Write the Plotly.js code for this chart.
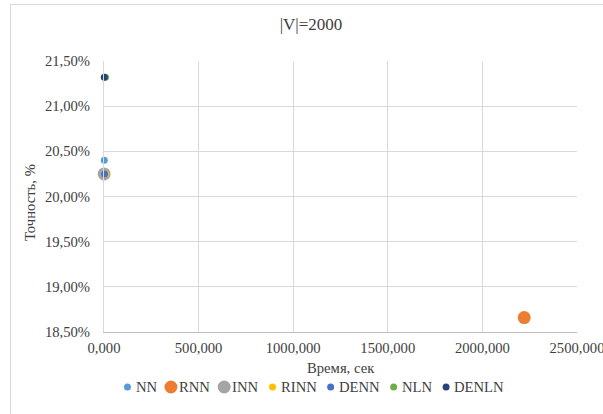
<!DOCTYPE html>
<html>
<head>
<meta charset="utf-8">
<script src="https://cdn.plot.ly/plotly-3.0.1.min.js"></script>
<style>
  html, body { margin: 0; padding: 0; background: #ffffff; }
  #wrap { position: relative; width: 603px; height: 414px; overflow: hidden; }
  #frame { position: absolute; left: 10px; top: 4px; width: 620px; height: 430px;
           border: 1px solid #d9d9d9; box-sizing: border-box; pointer-events: none; }
  #chart { position: absolute; left: 0; top: 0; width: 603px; height: 414px; }
</style>
</head>
<body>
<div id="wrap">
  <div id="chart"></div>
  <div id="frame"></div>
</div>
<script>
// Methods compared for |V| = 2000
const methods   = ["NN", "RNN", "INN", "RINN", "DENN", "NLN", "DENLN"];
// Running time, seconds
const timeSec   = [1.5, 2221, 0.8, 9, 3, 8, 1.5];
// Accuracy, fraction
const accuracy  = [0.2040, 0.1866, 0.2025, 0.2025, 0.2025, 0.2132, 0.2132];
const colors    = ["#5B9BD5", "#ED7D31", "#A5A5A5", "#FFC000", "#4472C4", "#70AD47", "#264478"];
const sizes     = [7, 13, 13, 7, 7, 7, 7];

const serif = '"Liberation Serif", "Times New Roman", serif';
const ink = "#404040";
const fs = 14.67;

// plot area in pixels
const W = 603, H = 414;
const PL = 104, PR = 577, PT = 61, PB = 332;
const px2x = p => (p - PL) / (PR - PL);
const py2y = p => (PB - p) / (PB - PT);

const traces = methods.map((m, i) => ({
  type: "scatter",
  mode: "markers",
  name: m,
  x: [timeSec[i]],
  y: [accuracy[i]],
  marker: { color: colors[i], size: sizes[i], line: { width: 0 } },
  cliponaxis: false,
  showlegend: false
}));

// Legend row: marker, label, next marker ... centred under the chart
const ctx = document.createElement("canvas").getContext("2d");
ctx.font = fs + "px 'Liberation Serif'";
const markerToText = 6.3, textToMarker = 16;
const textW = methods.map(m => ctx.measureText(m).width);
let total = sizes[0] / 2;
methods.forEach((m, i) => {
  total += markerToText + textW[i];
  if (i < methods.length - 1) total += textToMarker;
});
const legendCenter = 313, legendY = 387;
let cx = legendCenter - total / 2 + sizes[0] / 2;
const shapes = [], annotations = [];
methods.forEach((m, i) => {
  const r = sizes[i] / 2;
  shapes.push({
    type: "circle", xref: "paper", yref: "paper",
    xsizemode: "pixel", ysizemode: "pixel",
    xanchor: px2x(cx), yanchor: py2y(legendY),
    x0: -r, x1: r, y0: -r, y1: r,
    fillcolor: colors[i], line: { width: 0 }
  });
  const tx = cx + markerToText;
  annotations.push({
    text: m, xref: "paper", yref: "paper",
    x: px2x(tx), y: py2y(legendY), xanchor: "left", yanchor: "middle",
    showarrow: false, font: { family: serif, size: fs, color: ink }
  });
  cx = tx + textW[i] + textToMarker;
});

// Axis titles
annotations.push({
  text: "Время, сек", xref: "paper", yref: "paper",
  x: px2x(340.5), y: py2y(368), xanchor: "center", yanchor: "middle",
  showarrow: false, font: { family: serif, size: fs, color: ink }
});
annotations.push({
  text: "Точность, %", xref: "paper", yref: "paper",
  x: px2x(30), y: py2y(203), xanchor: "center", yanchor: "middle", textangle: -90,
  showarrow: false, font: { family: serif, size: fs, color: ink }
});

const layout = {
  width: W,
  height: H,
  paper_bgcolor: "#ffffff",
  plot_bgcolor: "#ffffff",
  separators: ", ",
  margin: { l: PL, r: W - PR, t: PT, b: H - PB },
  font: { family: serif, size: fs, color: ink },
  title: {
    text: "|V|=2000",
    font: { family: serif, size: 17, color: ink },
    x: 311 / W, xref: "container", xanchor: "center",
    y: 1 - 24 / H, yref: "container", yanchor: "middle"
  },
  xaxis: {
    range: [0, 2500],
    dtick: 500,
    tick0: 0,
    tickformat: ".3f",
    showgrid: true,
    gridcolor: "#d9d9d9",
    gridwidth: 1,
    zeroline: false,
    showline: true,
    linecolor: "#bfbfbf",
    linewidth: 1,
    ticks: "",
    ticklabelstandoff: 2,
    ticklabeloverflow: "allow",
    tickfont: { family: serif, size: fs, color: ink }
  },
  yaxis: {
    range: [0.185, 0.215],
    dtick: 0.005,
    tick0: 0.185,
    tickformat: ".2%",
    showgrid: true,
    gridcolor: "#d9d9d9",
    gridwidth: 1,
    zeroline: false,
    showline: true,
    linecolor: "#d9d9d9",
    linewidth: 1,
    ticks: "",
    ticklabelstandoff: 10,
    ticklabeloverflow: "allow",
    tickfont: { family: serif, size: fs, color: ink }
  },
  showlegend: false,
  shapes: shapes,
  annotations: annotations
};

Plotly.newPlot("chart", traces, layout, { displayModeBar: false, staticPlot: true });
</script>
</body>
</html>
